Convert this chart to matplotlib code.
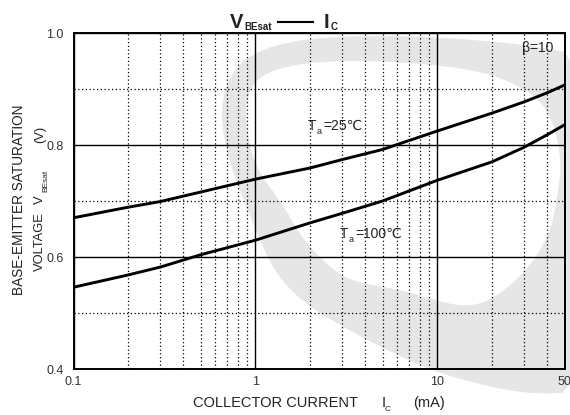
import matplotlib
matplotlib.use('Agg')
import matplotlib.pyplot as plt
from matplotlib.ticker import FixedLocator, NullFormatter
from matplotlib.patches import Polygon
from matplotlib.lines import Line2D
import numpy as np

plt.rcParams['font.family'] = ['Liberation Sans', 'DejaVu Sans']

# collector current (mA) and V_BEsat (V)
ic = [0.1, 0.2, 0.3, 0.5, 1, 2, 3, 5, 10, 20, 30, 40, 50]
vbe_25 = [0.670, 0.689, 0.699, 0.716, 0.739, 0.759, 0.774, 0.792, 0.825, 0.857, 0.877, 0.893, 0.907]
vbe_100 = [0.546, 0.568, 0.582, 0.604, 0.630, 0.661, 0.678, 0.700, 0.737, 0.770, 0.796, 0.818, 0.836]

x_ticks = [0.1, 1, 10, 50]
x_ticklabels = ['0.1', '1', '10', '50']
x_minor = [0.2, 0.3, 0.4, 0.5, 0.6, 0.7, 0.8, 0.9, 2, 3, 4, 5, 6, 7, 8, 9, 20, 30, 40]
y_ticks = [0.4, 0.6, 0.8, 1.0]
y_ticklabels = ['0.4', '0.6', '0.8', '1.0']
y_minor = [0.5, 0.7, 0.9]

W, H = 570, 415


def fx(x):
    return x / W


def fy(y):
    return 1 - y / H


def smooth(pts, n=3):
    # chaikin corner cutting on a closed outline
    p = np.asarray(pts, float)
    for _ in range(n):
        q = np.roll(p, -1, axis=0)
        p = np.column_stack([0.75 * p + 0.25 * q, 0.25 * p + 0.75 * q]).reshape(-1, 2)
    return p


fig = plt.figure(figsize=(5.7, 4.15), dpi=100)
ax = fig.add_axes([fx(73.5), fy(369), fx(491), 336 / H])
ax.set_facecolor('none')

# faint logo watermark behind the chart (pixel outline)
outer = [(265, 253), (245, 203), (232, 170), (222, 130), (222, 100), (232, 72), (250, 55),
         (285, 42), (340, 36), (420, 36), (500, 42), (545, 48), (580, 55), (580, 392),
         (540, 394), (503, 390), (437, 373), (380, 347), (313, 310), (282, 282)]
inner = [(245, 120), (248, 92), (262, 74), (300, 63), (370, 60), (470, 68), (520, 85),
         (550, 110), (562, 160), (557, 200), (550, 233), (530, 267), (497, 297), (470, 307),
         (440, 302), (403, 290), (347, 281), (320, 258), (300, 235), (282, 203), (255, 168)]
for pts, col in [(outer, '#e6e6e6'), (inner, 'white')]:
    s = smooth(pts)
    fig.patches.append(Polygon(np.column_stack([fx(s[:, 0]), fy(s[:, 1])]), closed=True,
                               transform=fig.transFigure, facecolor=col, edgecolor='none',
                               zorder=-5))

ax.plot(ic, vbe_25, color='black', lw=2.1, zorder=3)
ax.plot(ic, vbe_100, color='black', lw=2.1, zorder=3)

ax.set_xscale('log')
ax.set_xlim(0.1, 50)
ax.set_ylim(0.4, 1.0)
ax.xaxis.set_major_locator(FixedLocator(x_ticks))
ax.set_xticklabels(x_ticklabels)
ax.xaxis.set_minor_locator(FixedLocator(x_minor))
ax.xaxis.set_minor_formatter(NullFormatter())
ax.yaxis.set_major_locator(FixedLocator(y_ticks))
ax.set_yticklabels(y_ticklabels)
ax.yaxis.set_minor_locator(FixedLocator(y_minor))
ax.tick_params(which='both', length=0, labelsize=9, colors='#333333')
ax.tick_params(axis='x', pad=5)
ax.tick_params(axis='y', pad=7)

ax.grid(which='major', color='black', lw=1.0, zorder=1)
ax.grid(which='minor', color='black', lw=0.9, linestyle=(0, (1, 2)), zorder=1)
for s in ax.spines.values():
    s.set_linewidth(1.4)

txt = dict(color='#222222', va='baseline', ha='left')

# curve labels
fig.text(fx(308), fy(130), 'T', fontsize=10, **txt)
fig.text(fx(317), fy(134), 'a', fontsize=6.5, **txt)
fig.text(fx(323), fy(130), '=25℃', fontsize=10, **txt)
fig.text(fx(340), fy(238), 'T', fontsize=10, **txt)
fig.text(fx(349), fy(242), 'a', fontsize=6.5, **txt)
fig.text(fx(355), fy(238), '=100℃', fontsize=10, **txt)
fig.text(fx(553), fy(52), 'β=10', fontsize=10, color='#222222', va='baseline', ha='right')

# title
fig.text(fx(230), fy(28), 'V', fontsize=14.5, fontweight='bold', **txt)
fig.text(fx(244), fy(30), 'BEsat', fontsize=7, fontweight='bold', **txt)
fig.add_artist(Line2D([fx(278), fx(313)], [fy(22.5), fy(22.5)], color='black', lw=1.5,
                      transform=fig.transFigure))
fig.text(fx(324), fy(28), 'I', fontsize=14.5, fontweight='bold', **txt)
fig.text(fx(331), fy(30), 'C', fontsize=7, fontweight='bold', **txt)

# x label
fig.text(fx(193), fy(407), 'COLLECTOR CURRENT', fontsize=10.5, **txt)
fig.text(fx(382), fy(407), 'I', fontsize=10.5, **txt)
fig.text(fx(385), fy(411), 'C', fontsize=6, **txt)
fig.text(fx(413), fy(407), '(mA)', fontsize=10.5, **txt)

# y label, rotated pieces (baseline on the right, text running upward)
rot = dict(rotation=90, rotation_mode='anchor', color='#222222', va='baseline', ha='left')
fig.text(fx(23), fy(295), 'BASE-EMITTER SATURATION', fontsize=9.8, **rot)
fig.text(fx(43), fy(271), 'VOLTAGE', fontsize=9.3, **rot)
fig.text(fx(43), fy(204), 'V', fontsize=9.3, **rot)
fig.text(fx(47.5), fy(192), 'BEsat', fontsize=6, **rot)
fig.text(fx(43), fy(143), '(V)', fontsize=9.3, **rot)

plt.savefig('out.png', dpi=100)
plt.close()
